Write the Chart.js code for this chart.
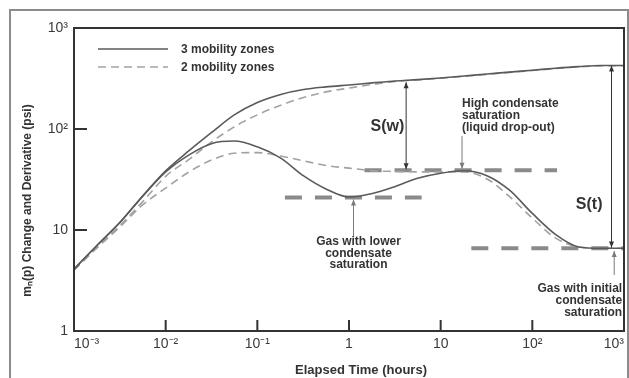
<!DOCTYPE html>
<html>
<head>
<meta charset="utf-8">
<script src="https://cdn.jsdelivr.net/npm/chart.js@4/dist/chart.umd.min.js"></script>
<style>
  html, body { margin: 0; padding: 0; background: #ffffff; }
  canvas { display: block; }
</style>
</head>
<body>
<canvas id="plot" width="629" height="378" style="width:629px;height:378px"></canvas>
<script>
// Elapsed time samples (hours)
const elapsedHours = [0.001, 0.0018, 0.0032, 0.0056, 0.01, 0.018, 0.032, 0.056, 0.1, 0.18, 0.32, 0.56,
                      1, 1.8, 3.2, 5.6, 10, 18, 32, 56, 100, 180, 320, 560, 1000];

// Pseudo-pressure change and derivative (psi)
const change3Zones = [4.1, 7.1, 12, 21.7, 38.5, 61, 93, 138, 183, 220, 246, 261,
                      273, 286, 299, 308, 320, 335, 350, 366, 382, 400, 415, 425, 425];
const deriv3Zones  = [4.1, 7.1, 12, 21.5, 37.5, 55.5, 72, 76, 66.6, 51.5, 34.3, 25.5,
                      21.2, 23, 27, 32.5, 36.5, 38.6, 34.5, 24.9, 14.6, 9.0, 6.8, 6.6, 6.6];
const change2Zones = [4.0, 6.8, 11.2, 19, 34, 50, 75, 105, 138, 172, 205, 233,
                      254, 276, 296, 306, 318, 332, 347, 363, 379, 397, 412, 422, 423];
const deriv2Zones  = [4.0, 6.7, 10.8, 17.7, 26, 37.6, 49.5, 57.5, 58.4, 54, 48.3, 43.5,
                      41, 38.6, 38, 37.6, 37.6, 37.6, 32, 21.5, 13.1, 8.3, 6.8, 6.6, 6.6];

// Derivative stabilisation levels: [start hours, end hours, psi]
const lowerSatLevel   = [0.2, 6.2, 21];
const highSatLevel    = [1.48, 186, 39];
const initialSatLevel = [21.6, 1000, 6.6];

// Axis ticks
const xTickValues = [0.001, 0.01, 0.1, 1, 10, 100, 1000];
const xTickLabels = ['10⁻³', '10⁻²', '10⁻¹', '1', '10', '10²', '10³'];
const yTickValues = [1, 10, 100, 1000];
const yTickLabels = ['1', '10', '10²', '10³'];

const legendLabels = ['3 mobility zones', '2 mobility zones'];
const xTitle = 'Elapsed Time (hours)';
const yTitle = 'mₙ(p) Change and Derivative (psi)';

const noteHigh    = ['High condensate', 'saturation', '(liquid drop-out)'];
const noteLower   = ['Gas with lower', 'condensate', 'saturation'];
const noteInitial = ['Gas with initial', 'condensate', 'saturation'];
const skinWell  = 'S(w)';
const skinTotal = 'S(t)';

const SOLID = '#5a5a5a';
const DASHED = '#a2a2a2';
const LEVEL = '#8a8a8a';
const INK = '#333333';
const POINTER = '#7a7a7a';
const FONT = '"Liberation Sans", Arial, Helvetica, sans-serif';

const pts = vals => elapsedHours.map((t, i) => ({ x: t, y: vals[i] }));
const level = l => [{ x: l[0], y: l[2] }, { x: l[1], y: l[2] }];

const curve = (vals, color, dash) => ({
  data: pts(vals), borderColor: color, borderWidth: 1.6, borderDash: dash,
  pointRadius: 0, fill: false, cubicInterpolationMode: 'monotone'
});
const levelSet = l => ({
  data: level(l), borderColor: LEVEL, borderWidth: 4, borderDash: [17, 13],
  pointRadius: 0, fill: false, tension: 0
});

function arrowHead(ctx, x, y, dir) {
  ctx.beginPath();
  ctx.moveTo(x, y);
  ctx.lineTo(x - 2.5, y - dir * 6);
  ctx.lineTo(x + 2.5, y - dir * 6);
  ctx.closePath();
  ctx.fill();
}
function vArrow(ctx, x, yFrom, yTo, both, color) {
  ctx.save();
  ctx.strokeStyle = color; ctx.fillStyle = color; ctx.lineWidth = 1;
  ctx.beginPath(); ctx.moveTo(x, yFrom); ctx.lineTo(x, yTo); ctx.stroke();
  const dir = yTo > yFrom ? 1 : -1;
  arrowHead(ctx, x, yTo, dir);
  if (both) arrowHead(ctx, x, yFrom, -dir);
  ctx.restore();
}
function textBlock(ctx, lines, x, y, lh, align) {
  ctx.textAlign = align;
  lines.forEach((s, i) => ctx.fillText(s, x, y + i * lh));
}

const decor = {
  id: 'decor',
  beforeDraw(chart) {
    const ctx = chart.ctx;
    ctx.save();
    ctx.strokeStyle = '#8c8c8c'; ctx.lineWidth = 2;
    ctx.beginPath();
    ctx.moveTo(10, 380); ctx.lineTo(10, 10); ctx.lineTo(628, 10); ctx.lineTo(628, 380);
    ctx.stroke();
    ctx.restore();
  },
  afterDatasetsDraw(chart) {
    const ctx = chart.ctx;
    const a = chart.chartArea;
    const xs = chart.scales.x, ys = chart.scales.y;
    const X = v => xs.getPixelForValue(v);
    const Y = v => ys.getPixelForValue(v);
    ctx.save();

    // plot box
    ctx.strokeStyle = INK; ctx.lineWidth = 2;
    ctx.strokeRect(a.left, a.top, a.right - a.left, a.bottom - a.top);

    // inward tick marks
    ctx.beginPath();
    xTickValues.forEach(v => { const p = X(v); ctx.moveTo(p, a.bottom); ctx.lineTo(p, a.bottom - 11); });
    yTickValues.forEach(v => { const p = Y(v); ctx.moveTo(a.left, p); ctx.lineTo(a.left + 13, p); });
    ctx.stroke();

    // legend
    const ds = chart.data.datasets;
    [0, 2].forEach((k, i) => {
      const y = a.top + 21 + i * 18;
      ctx.strokeStyle = ds[k].borderColor; ctx.lineWidth = 1.6;
      ctx.setLineDash(ds[k].borderDash || []);
      ctx.beginPath(); ctx.moveTo(a.left + 24, y); ctx.lineTo(a.left + 94, y); ctx.stroke();
      ctx.setLineDash([]);
      ctx.fillStyle = INK; ctx.font = 'bold 12px ' + FONT;
      ctx.textAlign = 'left'; ctx.textBaseline = 'middle';
      ctx.fillText(legendLabels[i], a.left + 107, y + 1);
    });

    // skin arrows and pointers
    vArrow(ctx, X(4.2), Y(290), Y(40), true, INK);
    vArrow(ctx, X(731), Y(425), Y(6.7), true, INK);
    vArrow(ctx, X(17.1), Y(85), Y(40.5), false, POINTER);
    vArrow(ctx, X(1.12), Y(8.6), Y(20), false, POINTER);
    vArrow(ctx, X(782), Y(3.58), Y(6.2), false, POINTER);

    // annotation text
    ctx.fillStyle = INK; ctx.textBaseline = 'middle';
    ctx.font = 'bold 16px ' + FONT;
    textBlock(ctx, [skinWell], X(2.63), Y(104.6), 0, 'center');
    textBlock(ctx, [skinTotal], X(417), Y(17.7), 0, 'center');
    ctx.font = 'bold 12px ' + FONT;
    textBlock(ctx, noteHigh, X(17.1), Y(177), 12, 'left');
    textBlock(ctx, noteLower, X(1.27), Y(7.66), 11.7, 'center');
    textBlock(ctx, noteInitial, X(955), Y(2.6), 11.7, 'right');

    // axis titles
    ctx.font = 'bold 13px ' + FONT;
    ctx.textAlign = 'center';
    ctx.fillText(xTitle, (a.left + a.right) / 2 + 12, a.bottom + 39);
    ctx.save();
    ctx.translate(a.left - 46, (a.top + a.bottom) / 2 + 21);
    ctx.rotate(-Math.PI / 2);
    ctx.font = 'bold 12px ' + FONT;
    ctx.fillText(yTitle, 0, 0);
    ctx.restore();

    ctx.restore();
  }
};

const lookup = (vals, labels) => v => {
  const i = vals.findIndex(t => Math.abs(Math.log10(t) - Math.log10(v)) < 1e-6);
  return i < 0 ? '' : labels[i];
};

new Chart(document.getElementById('plot'), {
  type: 'line',
  data: {
    datasets: [
      curve(change3Zones, SOLID),
      curve(deriv3Zones, SOLID),
      curve(change2Zones, DASHED, [8, 5]),
      curve(deriv2Zones, DASHED, [8, 5]),
      levelSet(lowerSatLevel),
      levelSet(highSatLevel),
      levelSet(initialSatLevel)
    ]
  },
  options: {
    responsive: false,
    animation: false,
    layout: { padding: { left: 0, top: 28, right: 4, bottom: 0 } },
    plugins: { legend: { display: false }, tooltip: { enabled: false } },
    scales: {
      x: {
        type: 'logarithmic', min: 0.001, max: 1000,
        afterFit: s => { s.height = 47; },
        afterBuildTicks: s => { s.ticks = xTickValues.map(v => ({ value: v })); },
        grid: { display: false, drawTicks: false },
        border: { display: false },
        ticks: {
          callback: lookup(xTickValues, xTickLabels),
          align: 'inner', autoSkip: false, maxRotation: 0, padding: 5,
          color: '#3a3a3a', font: { family: FONT, size: 14 }
        }
      },
      y: {
        type: 'logarithmic', min: 1, max: 1000,
        afterFit: s => { s.width = 74; },
        afterBuildTicks: s => { s.ticks = yTickValues.map(v => ({ value: v })); },
        grid: { display: false, drawTicks: false },
        border: { display: false },
        ticks: {
          callback: lookup(yTickValues, yTickLabels),
          autoSkip: false, padding: 6,
          color: '#3a3a3a', font: { family: FONT, size: 14 }
        }
      }
    }
  },
  plugins: [decor]
});
</script>
</body>
</html>
